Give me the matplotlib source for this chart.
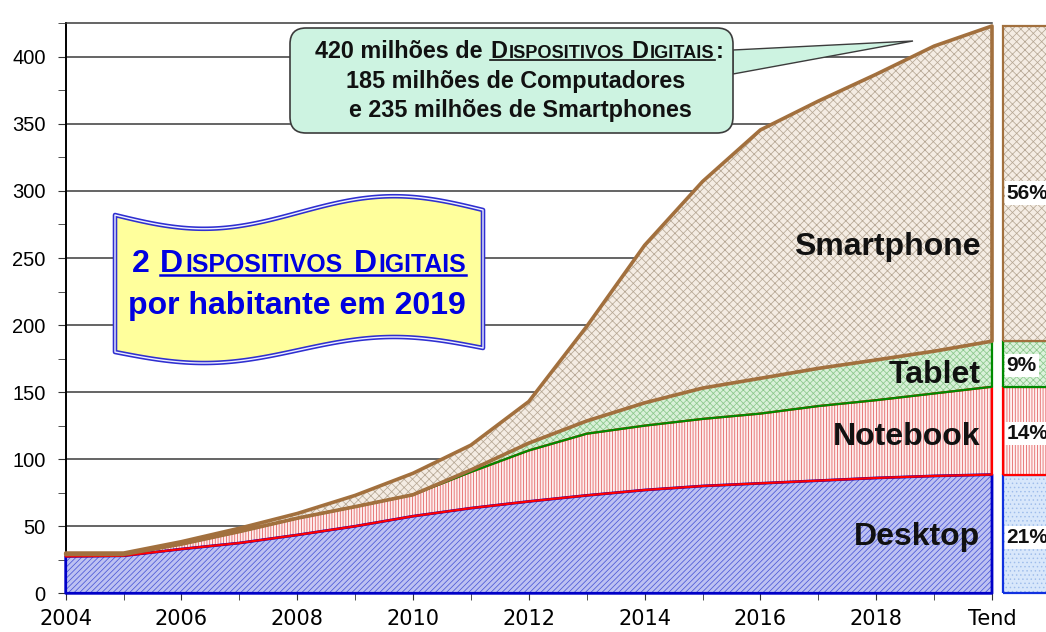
import numpy as np
import matplotlib
matplotlib.use("Agg")
import matplotlib.pyplot as plt
from matplotlib.patches import FancyBboxPatch, Polygon
from matplotlib.lines import Line2D
from matplotlib.transforms import Affine2D
from matplotlib.ticker import MultipleLocator

plt.rcParams["font.family"] = ["Liberation Sans", "DejaVu Sans"]
plt.rcParams["hatch.linewidth"] = 0.55

# Installed base in millions of devices (per series)
periods = ["2004", "2005", "2006", "2007", "2008", "2009", "2010", "2011", "2012",
           "2013", "2014", "2015", "2016", "2017", "2018", "2019", "Tend"]
desktop = [27.5, 28, 33, 37.5, 43.5, 50, 57.5, 63.5, 68.5, 73, 77, 80, 82, 84, 86, 87.5, 88.5]
notebook = [1.5, 1, 3.7, 8.5, 12.5, 14.6, 16, 27, 38, 46, 48, 50, 52, 55.6, 58, 61.5, 65.5]
tablet = [0, 0, 0, 0, 0, 0, 0, 1.5, 5.5, 9.5, 17, 23, 26.3, 28.1, 30, 31.5, 34]
smartphone = [1, 1, 1.8, 2.5, 3.5, 8.4, 16, 18.5, 31, 70.5, 117.5, 154, 185.2, 199.3, 213, 227.5, 235]

series_names = ["Desktop", "Notebook", "Tablet", "Smartphone"]
share_labels = ["21%", "14%", "9%", "56%"]
tick_labels = ["2004", "2006", "2008", "2010", "2012", "2014", "2016", "2018", "Tend"]

W, H = 1046, 632
fig = plt.figure(figsize=(W / 100, H / 100), dpi=100)
PX = Affine2D().scale(0.01) + fig.dpi_scale_trans   # pixel coords, origin bottom-left

# --- main stacked area ---
ax = fig.add_axes([65.7 / W, 38.7 / H, (992 - 65.7) / W, (608.7 - 38.7) / H])
x = np.arange(len(periods))
stack = np.vstack([desktop, notebook, tablet, smartphone])
tops = np.cumsum(stack, axis=0)
bottoms = np.vstack([np.zeros(len(x)), tops[:-1]])

styles = [
    dict(face="#bdc1f2", hatch="//////", hcol="#4a57d6", edge="#0000c8", lw=2.0),
    dict(face="#fdeeee", hatch="||||||", hcol="#e25c5c", edge="#ff0000", lw=1.6),
    dict(face="#d8f0d8", hatch="xxxxx", hcol="#8cc88c", edge="#008a00", lw=1.6),
    dict(face="#f4ece3", hatch="xxxx", hcol="#b6a794", edge="#a2703e", lw=2.6),
]
for i, st in enumerate(styles):
    ax.fill_between(x, bottoms[i], tops[i], facecolor=st["face"], edgecolor=st["hcol"],
                    hatch=st["hatch"], linewidth=0, zorder=2 + i * 0.1)
for i, st in enumerate(styles):
    xs = np.concatenate([x, x[::-1]])
    ys = np.concatenate([tops[i], bottoms[i][::-1]])
    ax.fill(xs, ys, fill=False, edgecolor=st["edge"], linewidth=st["lw"],
            zorder=3 + i * 0.1, joinstyle="round", clip_on=False)

ax.set_xlim(0, len(x) - 1)
ax.set_ylim(0, 425)
ax.set_xticks(range(0, len(x), 2))
ax.set_xticklabels(tick_labels)
ax.xaxis.set_minor_locator(MultipleLocator(1))
ax.yaxis.set_major_locator(MultipleLocator(50))
ax.yaxis.set_minor_locator(MultipleLocator(25))
ax.tick_params(axis="x", which="both", direction="out", length=5, color="#333333",
               pad=6, labelsize=15)
ax.tick_params(axis="y", which="both", direction="out", length=5.5, color="#333333",
               pad=9, labelsize=14.5)
for lab in ax.get_xticklabels():
    lab.set_family("DejaVu Sans")
ax.yaxis.grid(True, color="#3a3a3a", linewidth=1.1)
ax.set_axisbelow(True)
ax.spines["right"].set_visible(False)
ax.spines["top"].set_color("#3a3a3a")
ax.spines["top"].set_linewidth(1.1)
ax.spines["left"].set_linewidth(1.4)

label_pos = [42, 116.5, 162.5, 258]
for name, yv in zip(series_names, label_pos):
    ax.text(15.8, yv, name, ha="right", va="center", fontsize=23, fontweight="bold",
            color="#111111", zorder=6)

# --- right-hand share bar ---
bax = fig.add_axes([1003 / W, 38.7 / H, 60 / W, (608.7 - 38.7) / H])
bax.set_xlim(0, 1)
bax.set_ylim(0, 425)
bax.axis("off")
bar_styles = [
    dict(face="#d8e7fb", hatch="....", hcol="#9fbdeb", edge="#1030e0"),
    dict(face="#fff2f2", hatch="||||||", hcol="#e25c5c", edge="#ff0000"),
    dict(face="#dcf2dc", hatch="xxxxx", hcol="#8cc88c", edge="#008a00"),
    dict(face="#f4ece3", hatch="xxxx", hcol="#b6a794", edge="#a2703e"),
]
for i, st in enumerate(bar_styles):
    h, b = stack[i, -1], bottoms[i, -1]
    bax.bar(0.5, h, bottom=b, width=1, facecolor=st["face"], edgecolor=st["hcol"],
            hatch=st["hatch"], linewidth=0)
    bax.bar(0.5, h, bottom=b, width=1, fill=False, edgecolor=st["edge"], linewidth=1.6,
            clip_on=False)
    bax.text(0.06, b + 0.47 * h, share_labels[i], ha="left", va="center", fontsize=15,
             fontweight="bold", color="#111111",
             bbox=dict(facecolor="white", edgecolor="none", pad=1.5))

renderer = fig.canvas.get_renderer()


def rich_line(cx, base, parts, size, color, underline=None, z=8, ul_lw=1.2):
    arts, widths = [], []
    em = size * 100 / 72
    for s, k in parts:
        if s is None:
            arts.append(None)
            widths.append(0.278 * em)
            continue
        t = fig.text(0, base, s, transform=PX, fontsize=size * k, fontweight="bold",
                     color=color, ha="left", va="baseline", zorder=z)
        arts.append(t)
        widths.append(t.get_window_extent(renderer).width + 0.06 * em)
    x0 = cx - sum(widths) / 2
    starts = []
    for a, w in zip(arts, widths):
        starts.append(x0)
        if a is not None:
            a.set_x(x0)
        x0 += w
    if underline:
        i, j = underline
        yl = base - 0.1 * em
        fig.add_artist(Line2D([starts[i], starts[j] + widths[j] - 0.06 * em], [yl, yl],
                              transform=PX, color=color, lw=ul_lw, zorder=z))


# --- callout box ---
mint = "#cdf3e1"
tail = Polygon([(733, H - 50), (913, H - 41), (733, H - 74)], closed=True, transform=PX,
               facecolor=mint, edgecolor="#3c3c3c", lw=1.0, zorder=5)
fig.add_artist(tail)
box = FancyBboxPatch((290, H - 133), 443, 105, boxstyle="round,pad=0,rounding_size=16",
                     transform=PX, facecolor=mint, edgecolor="#3c3c3c", lw=1.2, zorder=6)
fig.add_artist(box)
sc = 0.78
rich_line(520, H - 58, [("420 milhões de", 1), (None, 1), ("D", 1), ("ISPOSITIVOS", sc),
                        (None, 1), ("D", 1), ("IGITAIS", sc), (":", 1)],
          16.8, "#111111", underline=(2, 6))
rich_line(516, H - 88, [("185 milhões de Computadores", 1)], 16.8, "#111111")
rich_line(521, H - 117, [("e 235 milhões de Smartphones", 1)], 16.8, "#111111")

# --- yellow wave banner ---
t = np.linspace(0, 1, 120)
bx = 115 + (483 - 115) * t
top = 215 + 15 * np.sin(2 * np.pi * t) - 5 * t
bot = 352 + 12 * np.sin(2 * np.pi * t) - 4 * t
verts = np.column_stack([np.concatenate([bx, bx[::-1]]),
                         H - np.concatenate([top, bot[::-1]])])
fig.add_artist(Polygon(verts, closed=True, transform=PX, facecolor="#ffff9c",
                       edgecolor="#2f2fd0", lw=3.3, joinstyle="round", zorder=6))
fig.add_artist(Polygon(verts, closed=True, transform=PX, fill=False,
                       edgecolor="#eef0ff", lw=1.0, joinstyle="round", zorder=6.5))
blue = "#0000e0"
rich_line(300, H - 272, [("2", 1), (None, 1), ("D", 1), ("ISPOSITIVOS", sc), (None, 1),
                         ("D", 1), ("IGITAIS", sc)], 23, blue, underline=(2, 6), ul_lw=1.8)
rich_line(298, H - 314, [("por habitante em 2019", 1)], 23, blue)

fig.savefig("out.png", dpi=100)
